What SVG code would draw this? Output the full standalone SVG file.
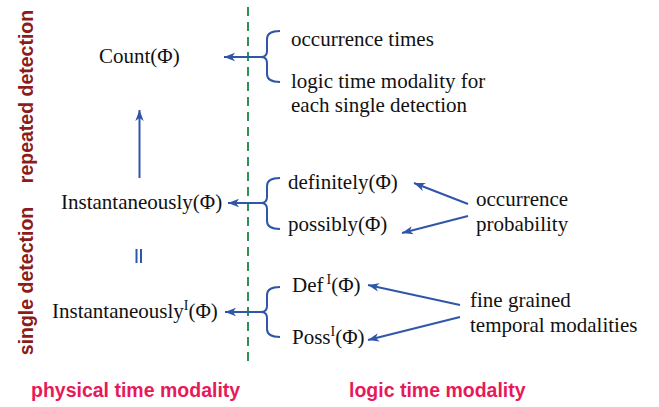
<svg xmlns="http://www.w3.org/2000/svg" width="659" height="407" viewBox="0 0 659 407">
  <style>
    .term { font-family: "Liberation Serif", "Times New Roman", serif; font-size: 21px; fill: #111; }
    .sup { font-size: 14px; }
    .axis { font-family: "Liberation Sans", Arial, sans-serif; font-size: 19.5px; font-weight: bold; }
    .side { fill: #8c1c1c; }
    .bottom { fill: #e8195b; }
    .link { stroke: #2f56a8; stroke-width: 2; fill: none; }
    .brace { stroke: #2f56a8; stroke-width: 2; fill: none; }
    .divider { stroke: #2e9152; stroke-width: 2; stroke-dasharray: 9 6; }
  </style>
  <defs>
    <marker id="head" markerUnits="userSpaceOnUse" markerWidth="12" markerHeight="10" viewBox="0 0 12 10" refX="11" refY="5" orient="auto">
      <path d="M0,0.8 L11,5 L0,9.2 L3,5 Z" fill="#2f56a8"/>
    </marker>
  </defs>

  <rect width="659" height="407" fill="#fff"/>

  <!-- side and bottom axis labels -->
  <text class="axis side" transform="translate(32.5,96.5) rotate(-90)" text-anchor="middle">repeated detection</text>
  <text class="axis side" transform="translate(32.5,281) rotate(-90)" text-anchor="middle">single detection</text>
  <text class="axis bottom" x="31" y="397">physical time modality</text>
  <text class="axis bottom" x="349" y="397">logic time modality</text>

  <!-- physical / logic divider -->
  <line class="divider" x1="248" y1="7" x2="248" y2="364"/>

  <!-- physical time nodes -->
  <g id="count">
    <text class="term" x="99" y="63">Count(Φ)</text>
  </g>
  <g id="instantaneously">
    <text class="term" x="61" y="209">Instantaneously(Φ)</text>
  </g>
  <g id="instantaneously-i">
    <text class="term" x="52" y="318">Instantaneously<tspan class="sup" dy="-8">I</tspan><tspan dy="8">(Φ)</tspan></text>
  </g>

  <!-- logic time nodes -->
  <g id="occurrence-times">
    <text class="term" x="291" y="46">occurrence times</text>
  </g>
  <g id="logic-per-detection">
    <text class="term" x="291" y="88">logic time modality for</text>
    <text class="term" x="291" y="112">each single detection</text>
  </g>
  <g id="definitely">
    <text class="term" x="288" y="189">definitely(Φ)</text>
  </g>
  <g id="possibly">
    <text class="term" x="288" y="231">possibly(Φ)</text>
  </g>
  <g id="def-i">
    <text class="term" x="292" y="292">Def<tspan class="sup" dx="3" dy="-8">I</tspan><tspan dy="8">(Φ)</tspan></text>
  </g>
  <g id="poss-i">
    <text class="term" x="292" y="344">Poss<tspan class="sup" dy="-8">I</tspan><tspan dy="8">(Φ)</tspan></text>
  </g>
  <g id="occurrence-probability">
    <text class="term" x="476" y="206">occurrence</text>
    <text class="term" x="476" y="231">probability</text>
  </g>
  <g id="fine-grained">
    <text class="term" x="470" y="307">fine grained</text>
    <text class="term" x="470" y="332">temporal modalities</text>
  </g>

  <g id="connectors">
    <!-- braces grouping the logic modalities -->
    <path class="brace" d="M280,31 Q267,31 267,39 L267,51 Q267,57 261,57 Q267,57 267,63 L267,74 Q267,82 280,82"/>
    <path class="brace" d="M280,178 Q267,178 267,186 L267,197 Q267,203 261,203 Q267,203 267,209 L267,221 Q267,229 280,229"/>
    <path class="brace" d="M280,287 Q267,287 267,295 L267,306 Q267,312 261,312 Q267,312 267,318 L267,329 Q267,337 280,337"/>

    <!-- brace to physical term -->
    <line class="link" x1="262" y1="57" x2="224" y2="57" marker-end="url(#head)"/>
    <line class="link" x1="262" y1="203" x2="228" y2="203" marker-end="url(#head)"/>
    <line class="link" x1="262" y1="312" x2="225" y2="312" marker-end="url(#head)"/>

    <!-- single detection builds up to count -->
    <line class="link" x1="139.5" y1="178" x2="139.5" y2="110" marker-end="url(#head)"/>

    <!-- equivalence mark -->
    <line class="link" x1="136.5" y1="249" x2="136.5" y2="263" stroke-width="1.6"/>
    <line class="link" x1="141" y1="249" x2="141" y2="263" stroke-width="1.6"/>

    <!-- annotation pointers -->
    <line class="link" x1="468" y1="204" x2="414" y2="183" marker-end="url(#head)"/>
    <line class="link" x1="468" y1="216" x2="402" y2="233" marker-end="url(#head)"/>
    <line class="link" x1="460" y1="305" x2="368" y2="285" marker-end="url(#head)"/>
    <line class="link" x1="460" y1="317" x2="368" y2="340" marker-end="url(#head)"/>
  </g>
</svg>
